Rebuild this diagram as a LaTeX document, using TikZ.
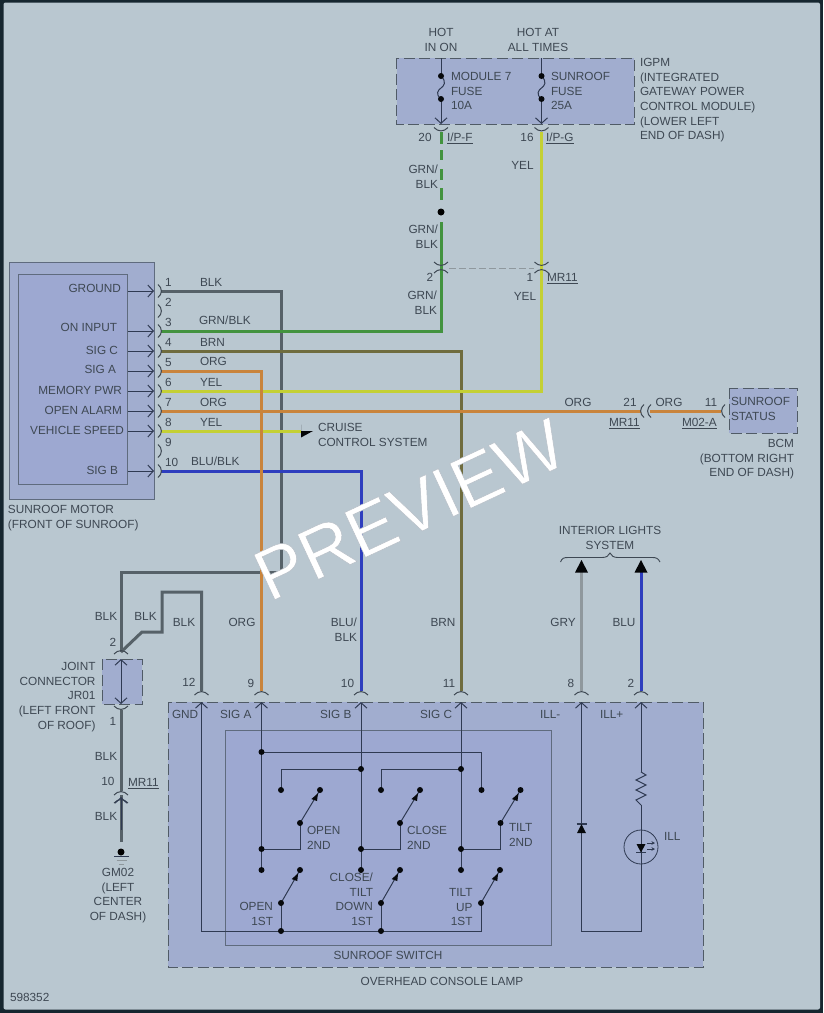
\documentclass[tikz,border=0pt]{standalone}
\usepackage{fontspec}
\setmainfont{Liberation Sans}
\usetikzlibrary{arrows.meta,calc}
\definecolor{bgc}{HTML}{B9C7D0}
\definecolor{framec}{HTML}{16262F}
\definecolor{boxc}{HTML}{A1ADCF}
\definecolor{innerc}{HTML}{9DA8D1}
\definecolor{inkc}{HTML}{3E4853}
\definecolor{thinc}{HTML}{2F3A52}
\definecolor{cblk}{HTML}{566168}
\definecolor{cgrn}{HTML}{43933F}
\definecolor{cyel}{HTML}{C4D034}
\definecolor{corg}{HTML}{C9843C}
\definecolor{cbrn}{HTML}{6F6C3E}
\definecolor{cblu}{HTML}{2E3EBE}
\definecolor{cgry}{HTML}{8F989D}
\tikzset{
  lab/.style={inner sep=0pt,outer sep=0pt,text=inkc,font=\fontsize{11.8}{14.7}\selectfont,text height=8.6pt,text depth=0pt},
  mlab/.style={inner sep=0pt,outer sep=0pt,text=inkc,font=\fontsize{11.8}{14.7}\selectfont},
  wire/.style={line width=3pt,line join=miter},
  wblk/.style={wire,draw=cblk},
  wgrn/.style={wire,draw=cgrn},
  wyel/.style={wire,draw=cyel},
  worg/.style={wire,draw=corg},
  wbrn/.style={wire,draw=cbrn},
  wblu/.style={wire,draw=cblu},
  wgry/.style={wire,draw=cgry},
  thin line/.style={line width=1pt,draw=thinc},
  solidbox/.style={draw=thinc!65!bgc,line width=1pt},
  dashbox/.style={draw=inkc!85!bgc,line width=1pt,dash pattern=on 11pt off 4.5pt,fill=boxc},
  pinarrow/.style={thin line,-{Straight Barb[length=5.5pt,width=12pt]}},
  arcline/.style={line width=1pt,draw=inkc},
  dotm/.style={circle,fill=black!85!thinc,inner sep=0pt,minimum size=6pt},
}
\newcounter{tn}
\newcommand{\tl}[4]{\stepcounter{tn}\node[lab,anchor=#1] (t\arabic{tn}) at (#2,#3) {#4};}
\newcommand{\ml}[5]{\stepcounter{tn}\node[mlab,anchor=#1,align=#2] (t\arabic{tn}) at (#3,#4-6.7) {\rule{0pt}{11pt}#5};}
\newcommand{\capU}[2]{\draw[arcline] (#1-7,#2) .. controls (#1-3,#2+4.5) and (#1+3,#2+4.5) .. (#1+7,#2);}
\newcommand{\capN}[2]{\draw[arcline] (#1-7,#2) .. controls (#1-3,#2-4.5) and (#1+3,#2-4.5) .. (#1+7,#2);}
\newcommand{\capR}[2]{\draw[arcline] (#1,#2-6.5) .. controls (#1+4.5,#2-3) and (#1+4.5,#2+3) .. (#1,#2+6.5);}
\newcommand{\capL}[2]{\draw[arcline] (#1,#2-6.5) .. controls (#1-4.5,#2-3) and (#1-4.5,#2+3) .. (#1,#2+6.5);}
\begin{document}
\begin{tikzpicture}[x=1pt,y=-1pt]
\useasboundingbox (0,0) rectangle (823,1013);
\fill[framec] (0,0) rectangle (823,1013);
\fill[bgc,rounded corners=2pt] (3.5,2.5) rectangle (820,1009.5);

% ---------- boxes
\draw[dashbox] (396.5,58) rectangle (634,124);
\draw[solidbox,fill=boxc] (9,262) rectangle (154,499);
\draw[solidbox,fill=innerc] (18,274) rectangle (127.5,484);
\draw[dashbox] (102,659) rectangle (142,704);
\draw[dashbox] (168,702) rectangle (703,967);
\draw[solidbox,fill=innerc] (225,730) rectangle (551,945);
\draw[dashbox] (729,388) rectangle (797,433);

% ---------- named points
\foreach \n/\y in {1/291,3/331,4/351,5/371,6/391,7/411,8/431,10/471}{
  \coordinate (mi\n) at (127.5,\y);
  \coordinate (mo\n) at (154,\y);
  \coordinate (m\n) at (161,\y);
}
\coordinate (m2) at (161,311);
\coordinate (m9) at (161,451);
\coordinate (bA) at (261.5,691);
\coordinate (bB) at (361,691);
\coordinate (bC) at (461,691);
\coordinate (bG) at (201.5,691);
\coordinate (bM) at (581.5,691);
\coordinate (bP) at (641,691);
\coordinate (fuseA) at (441,132);
\coordinate (fuseB) at (541.5,132);
\coordinate (mrA) at (441,212);
\coordinate (jrt) at (121,652);
\coordinate (jrb) at (121,710);
\coordinate (mrg) at (121,795);
\coordinate (gnd) at (121,842);
\coordinate (cruise) at (301,431);
\coordinate (bcm21) at (641,411);
\coordinate (bcm21b) at (650,411);
\coordinate (bcm11) at (721,411);
\coordinate (lightsM) at (581.5,572);
\coordinate (lightsP) at (641,572);

% ---------- coloured wires
\draw[wblk] (m1) -| (281.5,572) -| (jrt);
\draw[wblk] (jrt) -- (142,632) -- (162,632) -- (162,592) -| (bG);
\draw[wblk] (jrb) -- (121,791);
\draw[wblk] (mrg) -- (gnd);
\draw[wgrn] (441,132) -- (441,144);
\draw[wgrn] (441,150) -- (441,160);
\draw[wgrn] (441,169) -- (441,180);
\draw[wgrn] (441,188) -- (441,200);
\draw[wgrn] (441,222) -- (441,270);
\draw[wgrn] (441,270) |- (m3);
\draw[wbrn] (m4) -| (bC);
\draw[wyel] (fuseB) |- (m6);
\draw[wyel] (m8) -- (cruise);
\draw[wblu] (m10) -| (bB);
\draw[worg] (m5) -| (bA);
\draw[worg] (m7) -- (bcm21);
\draw[worg] (bcm21b) -- (bcm11);
\draw[wgry] (bM) -- (lightsM);
\draw[wblu] (bP) -- (lightsP);

% ---------- connector symbols
\capU{441}{127.5}\capU{541.5}{127.5}
\capU{441}{262}\capN{441}{273}\capU{541.5}{262}\capN{541.5}{273}
\draw[line width=1pt,draw=cgry,dash pattern=on 7pt off 3pt] (449,268) -- (534,268);
\foreach \y in {291,311,331,351,371,391,411,431,451,471}{\capR{158}{\y}}
\capL{644}{411}\capL{651}{411}\capL{725}{411}
\capN{121}{654}\capU{121}{706}\capN{121}{795}\capN{121}{803}
\foreach \x in {201.5,261.5,361,461,581.5,641}{\capN{\x}{695}}

% ---------- pin arrows
\foreach \n in {1,3,4,5,6,7,8,10}{\draw[pinarrow] (mi\n) -- (mo\n);}
\draw[pinarrow] (441,58) -- (441,124);
\draw[pinarrow] (541.5,58) -- (541.5,124);
\draw[thin line,{Straight Barb[length=5.5pt,width=12pt]}-{Straight Barb[length=5.5pt,width=12pt]}] (121,659) -- (121,704);
\draw[thin line,-{Straight Barb[length=5.5pt,width=12pt]}] (121,830) -- (121,797);

% ---------- fuses
\foreach \x in {441,541.5}{
  \fill[boxc] (\x-1.5,78) rectangle (\x+1.5,97);
  \draw[thin line,line width=1pt] (\x,76) .. controls (\x+6,82) and (\x+3,86) .. (\x,88) .. controls (\x-3,90) and (\x-6,94) .. (\x,99);
  \node[dotm] (fa\x) at (\x,76) {};
  \node[dotm] (fb\x) at (\x,99) {};
}
\node[circle,fill=black,inner sep=0pt,minimum size=7pt] (splice) at (mrA) {};

% ---------- overhead lamp circuit
\begin{scope}[thin line]
\draw[{Straight Barb[length=5.5pt,width=12pt]}-] (201.5,702) -- (201.5,931) -- (481,931) -- (481,903);
\draw[{Straight Barb[length=5.5pt,width=12pt]}-] (261.5,702) -- (261.5,870);
\draw[{Straight Barb[length=5.5pt,width=12pt]}-] (361,702) -- (361,870);
\draw[{Straight Barb[length=5.5pt,width=12pt]}-] (461,702) -- (461,870);
\draw (261.5,752) -- (481.5,752) -- (481.5,790);
\draw (361,769) -- (281,769) -- (281,790);
\draw (461,769) -- (381,769) -- (381,790);
\draw (261.5,849) -- (300,849) -- (300,823);
\draw (361,849) -- (400,849) -- (400,823);
\draw (461,849) -- (500.5,849) -- (500.5,823);
\draw (281,903) -- (281,931);
\draw (381,903) -- (381,931);
% switch blades
\foreach \ax/\ay/\bx/\by in {300/823/320/790,400/823/420/790,500.5/823/520.5/790,281/903/300/870,381/903/400/870,481/903/500/870}{
  \draw (\ax,\ay) -- (\bx,\by);
  \fill[black!85!thinc] ($(\ax,\ay)!0.72!(\bx,\by)+(-3.0,-0.2)$) -- ($(\ax,\ay)!0.9!(\bx,\by)$) -- ($(\ax,\ay)!0.72!(\bx,\by)+(2.6,1.8)$) -- cycle;
}
% ILL branch
\draw[{Straight Barb[length=5.5pt,width=12pt]}-] (581.5,702) -- (581.5,931) -- (641,931) -- (641,805);
\draw[{Straight Barb[length=5.5pt,width=12pt]}-] (641,702) -- (641,772);
\draw (641,772) -- (646,775) -- (636,780) -- (646,785) -- (636,790) -- (646,795) -- (636,800) -- (641,805);
\draw[line width=0.8pt] (641,847) circle (17);
\draw[line width=1.1pt] (636,852.5) -- (646,852.5);
\draw[line width=1.1pt] (576.5,824) -- (586.5,824);
\end{scope}
\fill[black!85!thinc] (581.5,824) -- (586,833) -- (577,833) -- cycle;
\fill[black!85!thinc] (636.5,844) -- (645.5,844) -- (641,852.5) -- cycle;
\draw[thin line,-{Stealth[length=3.5pt,width=3.5pt]}] (647,843) -- (655,843);
\draw[thin line,-{Stealth[length=3.5pt,width=3.5pt]}] (647,849) -- (655,849);
\foreach \i/\x/\y in {1/261.5/752,2/361/769,3/461/769,4/281/790,5/381/790,6/481.5/790,7/320/790,8/420/790,9/520.5/790,
 10/300/823,11/400/823,12/500.5/823,13/261.5/849,14/361/849,15/461/849,16/261.5/870,17/361/870,18/461/870,19/300/870,20/400/870,21/500/870,
 22/281/903,23/381/903,24/481/903,25/281/931,26/381/931}{
  \node[dotm] (sw\i) at (\x,\y) {};
}

% ---------- arrowheads and brace
\fill[black!92!thinc] (cruise) -- (313,431) -- (301,437.5) -- (301,424.5) -- cycle;
\fill[black!92!thinc] (581.5,560) -- (588,572.5) -- (575,572.5) -- cycle;
\fill[black!92!thinc] (641,560) -- (647.5,572.5) -- (634.5,572.5) -- cycle;
\draw[line width=0.9pt,draw=inkc] (560.5,562) .. controls (562,558) and (564,557.5) .. (568,557.5) -- (602,557.5) .. controls (606,557.5) and (609,556) .. (610,553) .. controls (611,556) and (614,557.5) .. (618,557.5) -- (652,557.5) .. controls (656,557.5) and (658,558) .. (660,562);

% ---------- ground
\node[circle,fill=black,inner sep=0pt,minimum size=7pt] (gdot) at (121,852) {};
\draw[thin line,line width=1.2pt] (114,856.5) -- (129,856.5);
\draw[draw=cgry,line width=1pt] (116.5,860.5) -- (126.5,860.5);
\draw[draw=cgry,line width=1pt] (119,864) -- (124,864);

% ---------- texts: top
\ml{north}{center}{441}{32}{HOT\\IN ON}
\ml{north}{center}{538}{32}{HOT AT\\ALL TIMES}
\ml{north west}{left}{451}{76}{MODULE 7\\FUSE\\10A}
\ml{north west}{left}{551}{76}{SUNROOF\\FUSE\\25A}
\ml{north west}{left}{640}{62}{IGPM\\(INTEGRATED\\GATEWAY POWER\\CONTROL MODULE)\\(LOWER LEFT\\END OF DASH)}
\tl{center}{425}{137}{20}
\tl{west}{447}{137}{\underline{I/P-F}}
\tl{center}{527}{137}{16}
\tl{west}{546}{137}{\underline{I/P-G}}
\ml{north east}{right}{438}{169}{GRN/\\BLK}
\ml{north east}{right}{438}{229}{GRN/\\BLK}
\ml{north east}{right}{437}{295}{GRN/\\BLK}
\tl{center}{522.5}{165}{YEL}
\tl{center}{525}{296}{YEL}
\tl{center}{430}{277}{2}
\tl{center}{530}{277}{1}
\tl{west}{547}{277}{\underline{MR11}}

% ---------- motor
\tl{east}{121}{288.5}{GROUND}
\tl{east}{117}{327}{ON INPUT}
\tl{east}{118}{350}{SIG C}
\tl{east}{116}{369}{SIG A}
\tl{east}{122}{390}{MEMORY PWR}
\tl{east}{122}{410}{OPEN ALARM}
\tl{east}{124}{430}{VEHICLE SPEED}
\tl{east}{118}{470}{SIG B}
\ml{north west}{left}{8}{509}{SUNROOF MOTOR\\(FRONT OF SUNROOF)}
\foreach \n/\y in {1/282,2/302,3/322,4/342,5/362,6/382,7/402,8/422,9/442,10/462}{
  \node[lab,anchor=west] (pn\n) at (165,\y) {\n};
}
\tl{west}{200}{282}{BLK}
\tl{west}{199}{320}{GRN/BLK}
\tl{west}{200}{342}{BRN}
\tl{west}{200}{361}{ORG}
\tl{west}{200}{382}{YEL}
\tl{west}{200}{402}{ORG}
\tl{west}{200}{422}{YEL}
\tl{west}{191}{461}{BLU/BLK}
\ml{north west}{left}{318}{427}{CRUISE\\CONTROL SYSTEM}

% ---------- BCM
\tl{center}{578}{402}{ORG}
\tl{center}{630}{402}{21}
\tl{west}{609}{422}{\underline{MR11}}
\tl{center}{669}{402}{ORG}
\tl{center}{711}{402}{11}
\tl{west}{682}{422}{\underline{M02-A}}
\ml{north west}{left}{731}{401}{SUNROOF\\STATUS}
\ml{north east}{right}{794}{443}{BCM\\(BOTTOM RIGHT\\END OF DASH)}

% ---------- joint connector, ground
\tl{center}{106}{616}{BLK}
\tl{center}{145.5}{616}{BLK}
\tl{center}{184}{622}{BLK}
\tl{center}{113}{642}{2}
\ml{north east}{right}{95.5}{666}{JOINT\\CONNECTOR\\JR01\\(LEFT FRONT\\OF ROOF)}
\tl{center}{113}{721}{1}
\tl{center}{106}{756}{BLK}
\tl{center}{108}{781}{10}
\tl{west}{128}{782}{\underline{MR11}}
\tl{center}{106}{816}{BLK}
\ml{north}{center}{118}{872}{GM02\\(LEFT\\CENTER\\OF DASH)}

% ---------- vertical wires labels
\tl{center}{242}{622}{ORG}
\ml{north east}{right}{357}{622}{BLU/\\BLK}
\tl{center}{443}{622}{BRN}
\tl{center}{563}{622}{GRY}
\tl{center}{624}{622}{BLU}
\ml{north}{center}{610}{530}{INTERIOR LIGHTS\\SYSTEM}
\tl{center}{189}{682}{12}
\tl{center}{251}{683}{9}
\tl{center}{347.5}{683}{10}
\tl{center}{449}{683}{11}
\tl{center}{571}{683}{8}
\tl{center}{631}{683}{2}

% ---------- lamp texts
\tl{west}{172}{714.5}{GND}
\tl{west}{220}{714.5}{SIG A}
\tl{west}{320}{714.5}{SIG B}
\tl{west}{420}{714.5}{SIG C}
\tl{west}{540}{714.5}{ILL-}
\tl{west}{600}{714.5}{ILL+}
\ml{north west}{left}{307}{830}{OPEN\\2ND}
\ml{north west}{left}{407}{830}{CLOSE\\2ND}
\ml{north west}{left}{509}{827}{TILT\\2ND}
\ml{north east}{right}{273}{906}{OPEN\\1ST}
\ml{north east}{right}{373}{877}{CLOSE/\\TILT\\DOWN\\1ST}
\ml{north east}{right}{472.5}{892}{TILT\\UP\\1ST}
\tl{west}{664}{836}{ILL}
\tl{center}{388}{955}{SUNROOF SWITCH}
\tl{center}{442}{981}{OVERHEAD CONSOLE LAMP}
\tl{west}{10}{997}{598352}

% ---------- watermark
\node[inner sep=0pt,anchor=base,rotate=25,text=white,font=\fontsize{72}{72}\selectfont] (wm) at (420,532) {\special{pdf:code 2 Tr 0.5 w 0.72 0.75 0.78 RG}PREVIEW\special{pdf:code 0 Tr}};
\end{tikzpicture}
\end{document}
